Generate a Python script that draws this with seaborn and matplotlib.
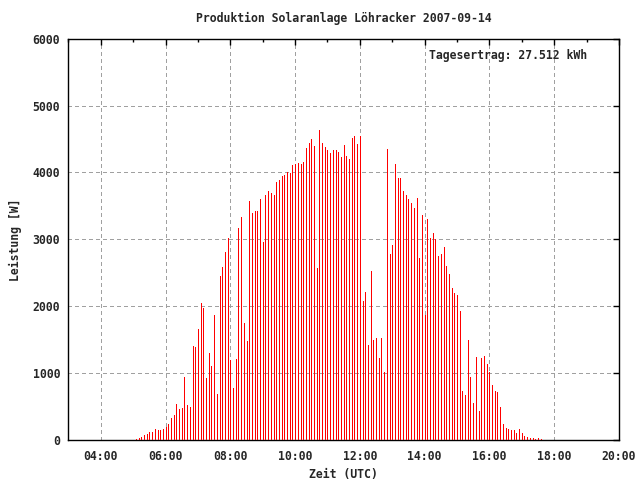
"""Tagesproduktion der Solaranlage als Impulsdiagramm (gnuplot-Stil)."""

import matplotlib

matplotlib.use("Agg")

import matplotlib.dates as mdates
import matplotlib.pyplot as plt
import pandas as pd
import seaborn as sns

DAY = "2007-09-14"
START = "05:05"
STEP_MIN = 5

# Leistung in W, alle 5 Minuten ab 05:05 UTC
leistung_w = [
    # 05:05 - 05:55
    20, 35, 50, 70, 85, 115, 115, 160, 145, 145, 160,
    # 06:00
    190, 235, 325, 370, 545, 460, 485, 945, 520, 490, 1400, 1390,
    # 07:00
    1660, 2045, 1970, 925, 1300, 1105, 1865, 690, 2450, 2590, 2810, 3020,
    # 08:00
    1195, 780, 1210, 3170, 3340, 1745, 1480, 3570, 3400, 3420, 3430, 3600,
    # 09:00
    2955, 3670, 3730, 3700, 3670, 3865, 3895, 3955, 3970, 4000, 3985, 4105,
    # 10:00
    4130, 4140, 4120, 4150, 4360, 4435, 4495, 4390, 2565, 4630, 4435, 4375,
    # 11:00
    4330, 4285, 4330, 4330, 4300, 4225, 4405, 4240, 4195, 4520, 4550, 4420,
    # 12:00
    4540, 2075, 2210, 1420, 2525, 1495, 1520, 1225, 1520, 1015, 4345, 2780,
    # 13:00
    2915, 4125, 3925, 3925, 3720, 3670, 3610, 3550, 3465, 3625, 2720, 3360,
    # 14:00
    1865, 3300, 3020, 3090, 3000, 2745, 2780, 2880, 2600, 2480, 2270, 2195,
    # 15:00
    2165, 1930, 735, 675, 1495, 945, 555, 1240, 435, 1225, 1255, 1135,
    # 16:00
    1015, 825, 735, 720, 495, 240, 180, 165, 150, 150, 105, 165,
    # 17:00 - 17:35
    105, 60, 45, 30, 30, 15, 30, 15,
]

TITLE = "Produktion Solaranlage Löhracker 2007-09-14"
ERTRAG = "Tagesertrag: 27.512 kWh"
Y_TICKS = [0, 1000, 2000, 3000, 4000, 5000, 6000]
FONT_SIZE = 8.3


def build_frame() -> pd.DataFrame:
    zeit = pd.date_range(f"{DAY} {START}", periods=len(leistung_w), freq=f"{STEP_MIN}min")
    return pd.DataFrame({"zeit": zeit, "leistung": leistung_w})


def main() -> None:
    df = build_frame()

    sns.set_style("white")
    plt.rcParams["font.family"] = ["DejaVu Sans Mono"]
    plt.rcParams["font.weight"] = "bold"
    plt.rcParams["font.size"] = FONT_SIZE

    fig = plt.figure(figsize=(6.4, 4.8), dpi=100)
    ax = fig.add_axes([0.107, 0.0833, 0.860, 0.836])

    # Impulse: 1 px breite Linien wie bei gnuplot
    ax.vlines(df["zeit"], 0, df["leistung"], colors="#ff0000",
              linewidth=0.72, antialiased=False, zorder=3)

    ax.set_xlim(pd.Timestamp(f"{DAY} 03:00"), pd.Timestamp(f"{DAY} 20:00"))
    ax.set_ylim(0, 6000)
    ax.set_yticks(Y_TICKS)
    ax.xaxis.set_major_locator(mdates.HourLocator(byhour=range(0, 24, 2)))
    ax.xaxis.set_minor_locator(mdates.HourLocator())
    ax.xaxis.set_major_formatter(mdates.DateFormatter("%H:%M"))

    ax.set_axisbelow(True)
    ax.grid(True, which="major", color="#a0a0a0", linestyle=(0, (3, 3)),
            linewidth=0.72, antialiased=False)

    ax.tick_params(which="both", direction="in", top=True, right=True,
                   color="black", width=1.0)
    ax.tick_params(which="major", length=4, pad=7)
    ax.tick_params(which="minor", length=2)
    ax.tick_params(axis="y", pad=6)
    for spine in ax.spines.values():
        spine.set_color("black")
        spine.set_linewidth(1.0)

    ax.set_title(TITLE, fontsize=FONT_SIZE, fontweight="bold", pad=12)
    ax.set_xlabel("Zeit (UTC)", fontsize=FONT_SIZE, fontweight="bold", labelpad=4)
    ax.set_ylabel("Leistung [W]", fontsize=FONT_SIZE, fontweight="bold", labelpad=8)
    ax.text(0.942, 0.958, ERTRAG, transform=ax.transAxes, fontsize=FONT_SIZE,
            ha="right", va="center", fontweight="bold")

    fig.savefig("out.png", dpi=100, facecolor="white")
    plt.close(fig)


if __name__ == "__main__":
    main()
